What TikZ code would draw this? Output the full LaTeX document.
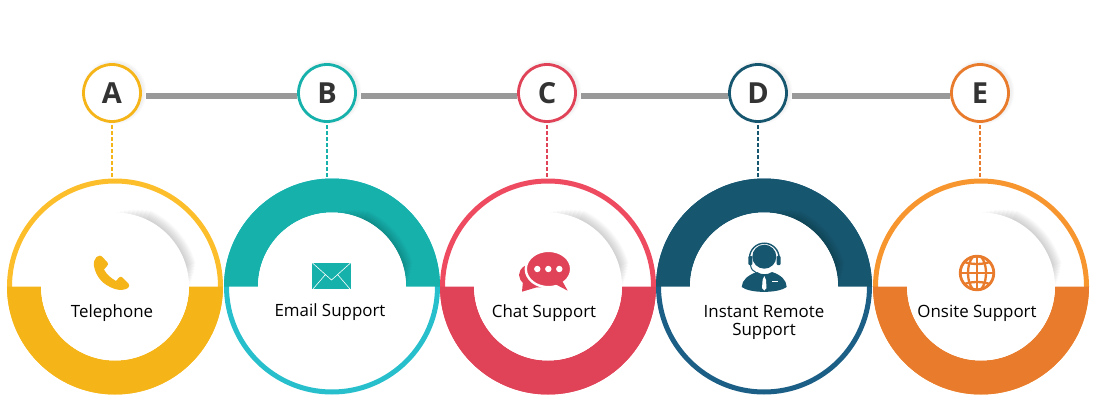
\documentclass[tikz,border=0pt]{standalone}
\usepackage{fontspec}
\setmainfont{Open Sans}
\definecolor{figA}{HTML}{F5B418}
\definecolor{figAline}{HTML}{FDBE2B}
\definecolor{figB}{HTML}{17B1AC}
\definecolor{figBline}{HTML}{26BFCB}
\definecolor{figC}{HTML}{E04257}
\definecolor{figCline}{HTML}{EE4B60}
\definecolor{figD}{HTML}{17566F}
\definecolor{figDline}{HTML}{1C5F86}
\definecolor{figE}{HTML}{E87B2C}
\definecolor{figEline}{HTML}{F7962F}
\definecolor{figLink}{HTML}{999999}
\definecolor{figText}{HTML}{333333}

\tikzset{
  badge/.style={circle,draw=#1,line width=2.8pt,fill=white,minimum size=57pt,inner sep=0pt,
    text=figText,font=\bfseries\fontsize{29}{29}\selectfont},
  ringnode/.style={circle,draw=#1,line width=5pt,minimum size=211pt,inner sep=0pt},
  dropline/.style={#1,line width=2.1pt,dash pattern=on 4pt off 2pt},
  linkline/.style={figLink,line width=6pt,shorten <=4.5pt},
  caption/.style={align=center,text=black,font=\fontsize{16.9}{18}\selectfont}
}

\begin{document}
\begin{tikzpicture}[x=1pt,y=1pt]
\useasboundingbox (0,0) rectangle (1100,400);
\node[ringnode=figAline] (ringa) at (115,113.5) {};
\node[ringnode=figBline] (ringb) at (332,113.5) {};
\node[ringnode=figCline] (ringc) at (548,113.5) {};
\node[ringnode=figDline] (ringd) at (764,113.5) {};
\node[ringnode=figEline] (ringe) at (981,113.5) {};
\foreach \cx/\col/\lo/\hi in {115/figA/180/360,332/figB/0/180,548/figC/180/360,764/figD/0/180,981/figE/180/360}{
  \fill[\col] (\cx,113.5) ++(\lo:108) arc (\lo:\hi:108) -- ++(\hi+180:34) arc (\hi:\lo:74) -- cycle;
  \foreach \i in {1,...,9}
    \fill[black,opacity=0.024] (\cx,113.5) -- ++(-2+\i*2:73+\i*1.2) arc (-2+\i*2:92-\i*3:73+\i*1.2) -- cycle;
  \fill[white] (\cx,113.5) circle (74);
}
\foreach \bx in {112,327,547,758,980}
  \foreach \i in {1,...,5}
    \fill[black,opacity=0.012] (\bx+2,308) circle (29+\i*0.7);
\node[badge=figA] (a) at (112,307) {\raisebox{-2pt}{A}};
\node[badge=figB] (b) at (327,307) {\raisebox{-2pt}{B}};
\node[badge=figC] (c) at (547,307) {\raisebox{-2pt}{C}};
\node[badge=figD] (d) at (758,307) {\raisebox{-2pt}{D}};
\node[badge=figE] (e) at (980,307) {\raisebox{-2pt}{E}};
\draw[linkline] ([yshift=-2.5pt]a.east) -- ([yshift=-2.5pt]b.west);
\draw[linkline] ([yshift=-2.5pt]b.east) -- ([yshift=-2.5pt]c.west);
\draw[linkline] ([yshift=-2.5pt]c.east) -- ([yshift=-2.5pt]d.west);
\draw[linkline] ([yshift=-2.5pt]d.east) -- ([yshift=-2.5pt]e.west);
\draw[dropline=figA] ([yshift=-2pt]a.south) -- (a.south |- ringa.north);
\draw[dropline=figB] ([yshift=-2pt]b.south) -- (b.south |- ringb.north);
\draw[dropline=figC] ([yshift=-2pt]c.south) -- (c.south |- ringc.north);
\draw[dropline=figD] ([yshift=-2pt]d.south) -- (d.south |- ringd.north);
\draw[dropline=figE] ([yshift=-2pt]e.south) -- (e.south |- ringe.north);
\node[caption] (labela) at (112,86.5) {Telephone};
\node[caption] (labelb) at (330,87.5) {Email Support};
\node[caption] (labelc) at (544,86.5) {Chat Support};
\node[caption] (labeld) at (764,77.5) {Instant Remote\\Support};
\node[caption] (labele) at (977,86.5) {Onsite Support};
% phone
\fill[figA] (96.5,143) .. controls (99,145) and (101,144.5) .. (102,143.5) -- (107.5,137.5) .. controls (108.5,136) and (108,135) .. (107,134) -- (104,130.5) .. controls (107,125) and (111,122) .. (116,119) -- (119,122.5) .. controls (120,123.5) and (121.5,123.5) .. (122.5,122.5) -- (128.5,116.5) .. controls (129.5,115) and (129.5,113.5) .. (128,112) .. controls (125,110) and (120,109.5) .. (115,111) .. controls (103,115) and (96,123) .. (94,134) .. controls (93.5,138) and (94.5,141) .. (96.5,143) -- cycle;
% envelope
\fill[figB] (312,137) rectangle (351,111);
\draw[white,line width=0.6pt] (312.5,137) -- (331.5,120) -- (350.5,137) (313,111) -- (325.5,125.5) (350,111) -- (337.5,125.5);
% chat
\fill[figC] (537,125) ellipse (18 and 12.5);
\fill[figC] (523,119) -- (522,108.3) -- (536,112.5) -- cycle;
\fill[figC,draw=white,line width=2.4pt] (548.5,131) ellipse (22.7 and 18.2);
\fill[figC] (555,116) -- (567.7,109.3) -- (561.7,120) -- cycle;
\foreach \dx in {537.3,548.3,559.3}
  \fill[white] (\dx,131) circle (3.2);
% agent
\fill[figD] (764.3,143.3) circle (12);
\draw[figD,line width=1.4pt] (749.5,142) arc (180:0:14.8);
\fill[figD,rounded corners=1pt] (748.3,135) rectangle (752.3,144);
\fill[figD,rounded corners=1pt] (776.7,135) rectangle (780.7,144);
\draw[figD,line width=1pt] (750.5,135) .. controls (751,131) and (753,128.5) .. (756,127.5);
\fill[figD] (741.7,113) .. controls (742,120) and (748,125) .. (757,128) .. controls (761,125) and (768,125) .. (772,128) .. controls (781,125) and (786.5,120) .. (786.7,113) .. controls (778,106.5) and (750,106.5) .. (741.7,113) -- cycle;
\fill[white] (764.3,124) -- (766,120) -- (766.5,112) -- (764.3,109.5) -- (762,112) -- (762.6,120) -- cycle;
\fill[white] (772,117.8) rectangle (778,119);
% globe
\begin{scope}
\clip (977,127) circle (18);
\draw[figE,line width=2.3pt] (977,145) -- (977,109) (959,127) -- (995,127);
\draw[figE,line width=2.3pt] (977,127) ellipse (9 and 18);
\draw[figE,line width=2.3pt] (962,139) .. controls (970,135) and (984,135) .. (992,139);
\draw[figE,line width=2.3pt] (962,115) .. controls (970,119) and (984,119) .. (992,115);
\end{scope}
\draw[figE,line width=2.8pt] (977,127) circle (16.8);
\end{tikzpicture}
\end{document}
